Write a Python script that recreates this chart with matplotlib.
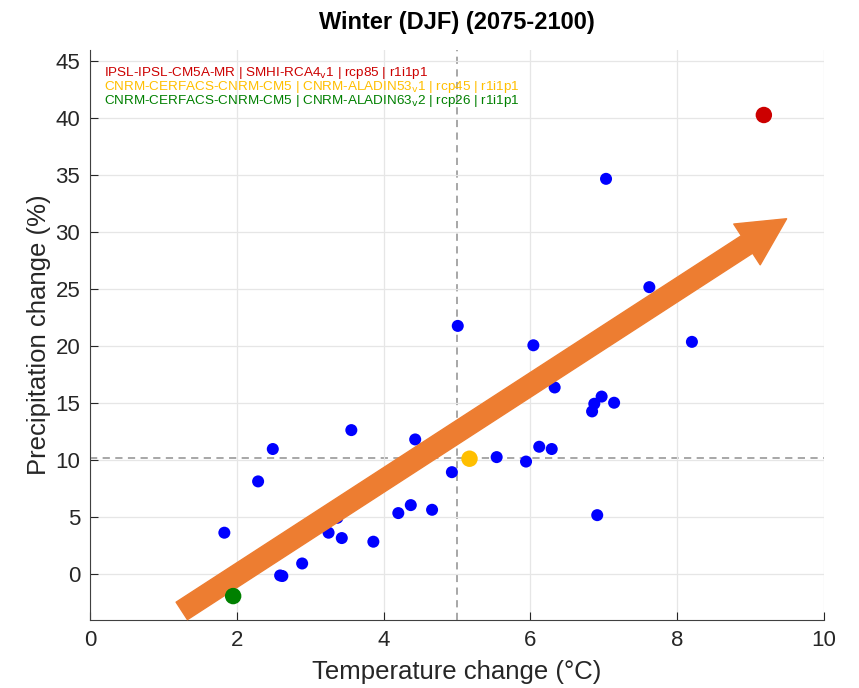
import matplotlib
matplotlib.use('Agg')
import matplotlib.pyplot as plt
from matplotlib.patches import FancyArrowPatch

plt.rcParams['font.family'] = ['Liberation Sans', 'DejaVu Sans']

# ensemble members (temperature change, precipitation change)
temp_change = [1.83, 2.29, 2.49, 2.59, 2.62, 2.89, 3.25, 3.37, 3.43, 3.56, 3.86,
               4.20, 4.37, 4.43, 4.66, 4.93, 5.01, 5.54, 5.94, 6.04, 6.12, 6.29,
               6.33, 6.84, 6.87, 6.91, 6.97, 7.03, 7.14, 7.62, 8.20]
precip_change = [3.66, 8.16, 11.0, -0.09, -0.14, 0.96, 3.66, 4.97, 3.19, 12.66, 2.87,
                 5.38, 6.08, 11.84, 5.67, 8.97, 21.8, 10.29, 9.9, 20.1, 11.2, 11.0,
                 16.4, 14.3, 14.97, 5.2, 15.6, 34.7, 15.06, 25.2, 20.4]

# highlighted models
sel_labels = ['IPSL-IPSL-CM5A-MR | SMHI-RCA4$_{\\rm v}$1 | rcp85 | r1i1p1',
              'CNRM-CERFACS-CNRM-CM5 | CNRM-ALADIN53$_{\\rm v}$1 | rcp45 | r1i1p1',
              'CNRM-CERFACS-CNRM-CM5 | CNRM-ALADIN63$_{\\rm v}$2 | rcp26 | r1i1p1']
sel_temp = [9.18, 5.17, 1.95]
sel_precip = [40.3, 10.15, -1.9]
sel_colors = ['#CC0000', '#FFBF00', '#008000']

median_temp = 5.0
median_precip = 10.2

arrow_start = (1.25, -3.2)
arrow_end = (9.49, 31.2)

fig = plt.figure(figsize=(8.59, 6.88), dpi=100)
ax = fig.add_axes([0.1048, 0.0988, 0.8545, 0.8285])

ax.grid(True, color='#e6e6e6', linewidth=0.9, zorder=0)
ax.axvline(median_temp, color='#a0a0a0', linestyle=(0, (4, 3)), linewidth=1.3, zorder=1)
ax.axhline(median_precip, color='#a0a0a0', linestyle=(0, (4, 3)), linewidth=1.3, zorder=1)

ax.scatter(temp_change, precip_change, s=75, color='#0000FF', edgecolors='none', zorder=3)

arrow = FancyArrowPatch(arrow_start, arrow_end,
                        arrowstyle='simple,head_length=34,head_width=35,tail_width=15',
                        mutation_scale=1, color='#ED7D31', shrinkA=0, shrinkB=0,
                        zorder=4, clip_on=False)
ax.add_patch(arrow)

ax.scatter(sel_temp, sel_precip, s=140, c=sel_colors, edgecolors='none', zorder=5)

for i, (lab, col) in enumerate(zip(sel_labels, sel_colors)):
    ax.text(0.019, 0.960 - i * 0.0245, lab, color=col, fontsize=9.7,
            transform=ax.transAxes, va='center', ha='left', zorder=6)

ax.set_xlim(0, 10)
ax.set_ylim(-4, 46)
ax.set_xticks(range(0, 11, 2))
ax.set_yticks(range(0, 46, 5))
ax.tick_params(direction='in', length=6, pad=7, labelsize=16, colors='#262626')
for side in ['top', 'right']:
    ax.spines[side].set_visible(False)
for side in ['left', 'bottom']:
    ax.spines[side].set_color('#404040')

ax.set_xlabel('Temperature change (°C)', fontsize=18.5, color='#262626', labelpad=7)
ax.set_ylabel('Precipitation change (%)', fontsize=18.5, color='#262626', labelpad=3)
ax.set_title('Winter (DJF) (2075-2100)', fontsize=17, fontweight='bold', pad=15)

fig.savefig('out.png', dpi=100)
